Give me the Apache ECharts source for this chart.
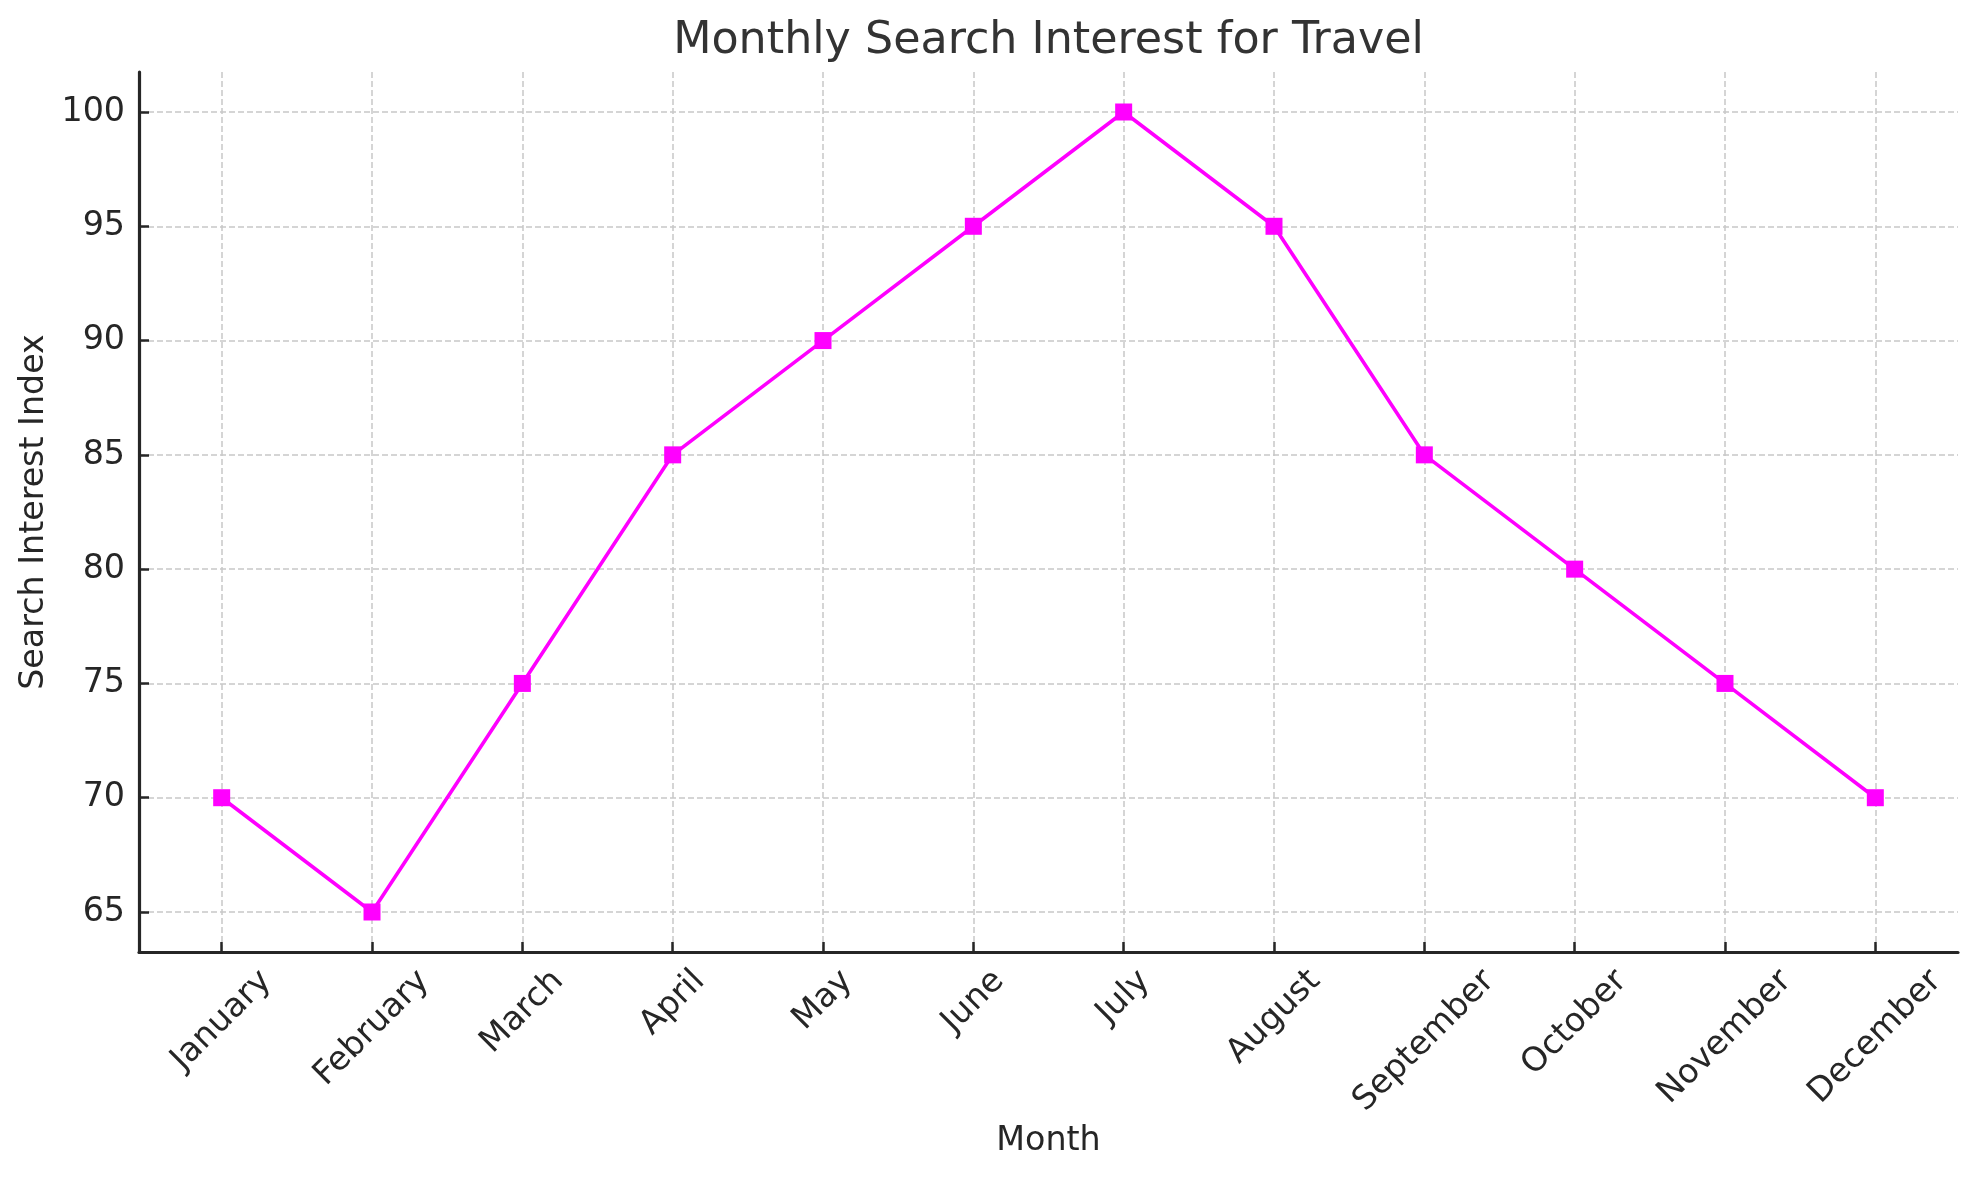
<!DOCTYPE html>
<html>
<head>
<meta charset="utf-8">
<script src="https://cdn.jsdelivr.net/npm/echarts@6/dist/echarts.min.js"></script>
<style>
  html, body { margin: 0; padding: 0; background: #fff; }
  #main { width: 1977px; height: 1180px; }
</style>
</head>
<body>
<div id="main"></div>
<script>
// data
const months = ['January', 'February', 'March', 'April', 'May', 'June',
    'July', 'August', 'September', 'October', 'November', 'December'];
const searchIndex = [70, 65, 75, 85, 90, 95, 100, 95, 85, 80, 75, 70];
const yTicks = [65, 70, 75, 80, 85, 90, 95, 100];

const FONT = 'DejaVu Sans';
const TICK_SIZE = 33.3;

// measure text so rotated month labels can be centred under the tick, like matplotlib does
const ctx = document.createElement('canvas').getContext('2d');
function textWidth(s, size) {
    ctx.font = size + 'px "' + FONT + '"';
    return ctx.measureText(s).width;
}

const monthIdx = months.map(function (m, i) { return i; });
const rich = {};
months.forEach(function (m, i) {
    const w = textWidth(m, TICK_SIZE);
    rich['m' + i] = {
        fontFamily: FONT,
        fontSize: TICK_SIZE,
        color: '#262626',
        padding: [w / 2, w / 2, 0, 0]
    };
});

const titleText = 'Monthly Search Interest for Travel';
const titleW = textWidth(titleText, 44.4);

const gridL = 139, gridR = 19, gridT = 72, gridB = 228;
const plotCx = gridL + (1977 - gridL - gridR) / 2;

const myChart = echarts.init(document.getElementById('main'));
myChart.setOption({
    backgroundColor: '#ffffff',
    animation: false,
    title: {
        text: titleText,
        left: plotCx - titleW / 2,
        top: 19,
        padding: 0,
        textStyle: { fontFamily: FONT, fontSize: 44.4, fontWeight: 'normal', color: '#333333' }
    },
    grid: { left: gridL, right: gridR, top: gridT, bottom: gridB, containLabel: false },
    xAxis: {
        type: 'value',
        min: -0.55,
        max: 11.55,
        name: 'Month',
        nameLocation: 'middle',
        nameGap: 172,
        nameTextStyle: { fontFamily: FONT, fontSize: TICK_SIZE, color: '#262626' },
        axisLine: { show: true, onZero: false, lineStyle: { color: '#262626', width: 3.2 } },
        axisTick: { show: true, inside: true, length: 10, customValues: monthIdx,
            lineStyle: { color: '#262626', width: 2.5 } },
        axisLabel: {
            customValues: monthIdx,
            rotate: 45,
            align: 'center',
            verticalAlign: 'middle',
            margin: 24,
            fontFamily: FONT,
            fontSize: TICK_SIZE,
            color: '#262626',
            formatter: function (v) {
                const i = Math.round(v);
                return '{m' + i + '|' + months[i] + '}';
            },
            rich: rich
        },
        splitLine: { show: true, lineStyle: { color: '#c8c8c8', width: 1.5, type: [6, 3] } }
    },
    yAxis: {
        type: 'value',
        min: 63.25,
        max: 101.75,
        name: 'Search Interest Index',
        nameLocation: 'middle',
        nameGap: 88,
        nameTextStyle: { fontFamily: FONT, fontSize: TICK_SIZE, color: '#262626' },
        axisLine: { show: true, onZero: false, lineStyle: { color: '#262626', width: 3.2 } },
        axisTick: { show: true, inside: true, length: 10, customValues: yTicks,
            lineStyle: { color: '#262626', width: 2.5 } },
        axisLabel: {
            customValues: yTicks,
            margin: 14,
            fontFamily: FONT,
            fontSize: TICK_SIZE,
            color: '#262626'
        },
        splitLine: { show: true, lineStyle: { color: '#c8c8c8', width: 1.5, type: [6, 3] } }
    },
    series: [
        {
            name: 'Search Interest',
            type: 'line',
            data: searchIndex.map(function (v, i) { return [i, v]; }),
            symbol: 'rect',
            symbolSize: 17,
            itemStyle: { color: '#ff00ff' },
            lineStyle: { color: '#ff00ff', width: 3.6 },
            z: 3
        }
    ]
});
</script>
</body>
</html>
